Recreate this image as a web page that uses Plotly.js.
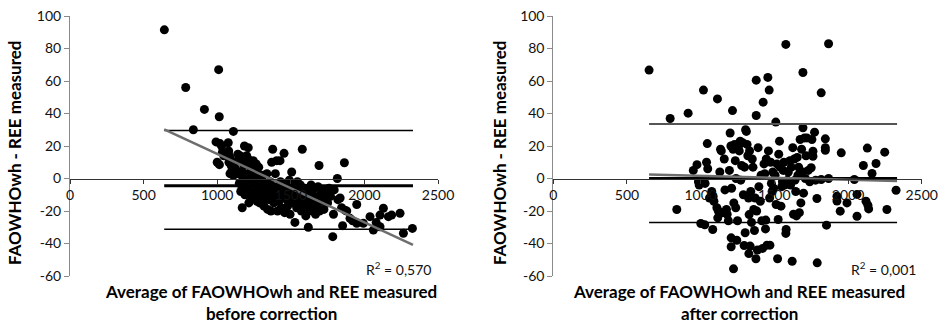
<!DOCTYPE html>
<html>
<head>
<meta charset="utf-8">
<script src="https://cdn.plot.ly/plotly-3.0.1.min.js"></script>
<style>html,body{margin:0;padding:0;background:#fff;}#chart{width:940px;height:323px;}</style>
</head>
<body>
<div id="chart"></div>
<script>
// ---- Data: before correction (left panel) ----
const beforeX = [641,786,838,913,992,1000,1010,1014,1015,
 1019,1030,1035,1045,1060,1075,1078,1080,1082,1087,1090,1095,1100,
 1110,1110,1115,1125,1135,1140,1148,1150,1155,1160,1165,1170,1172,1175,1178,1182,1185,1188,1190,1195,1200,
 1205,1210,1211,1215,1220,1225,1228,1232,1238,1240,1245,1250,1255,1260,1265,1270,1272,1278,1282,1288,1292,1298,
 1302,1308,1312,1318,1325,1330,1335,1338,1343,1350,1355,1360,1365,1370,1377,1380,1385,1390,1395,1398,
 1404,1410,1415,1420,1427,1430,1435,1440,1445,1454,1458,1462,1468,1472,1478,1485,1490,1495,1506,
 1510,1515,1520,1528,1535,1540,1545,1552,1560,1565,1572,1578,1582,1590,1595,
 1602,1608,1615,1619,1625,1630,1638,1645,1650,1655,1662,1668,1675,1680,1685,1692,1695,
 1702,1710,1718,1725,1730,1742,1750,1760,1770,1785,1790,1795,
 1816,1820,1835,1845,1852,1864,1868,1880,
 1902,1920,1948,1948,1993,2038,2061,2080,2106,2106,2129,2163,2185,2242,2265,2326];
const beforeY = [91.5,56,30,42.5,22.5,10,67,38,8.5,
 21.5,20,16,14,15,22,17,10,14,3,12,8,5,
 29,2,10,6,3,15,12,-3,14,-8,4,-18,1,-5,10,8,20,-10,3,-2,14,
 -6,12,19,-15,0,9,-12,5,-8,8,11,-3,2,-10,9,-14,4,-6,7,-15,0,-4,
 -13,-9,2,-17,-3,-11,-6,3,-19,-13,-8,-2,-20,10,18,-10,-15,-5,3,-12,
 11,-20,-8,-14,11,-2,-18,-6,-11,15.5,-21,-9,-3,-13,-17,-7,-1,-22,4,
 -10,-15,-5,-27,-12,-18,-2,-8,-14,-4,-20,18,-10,-16,-6,
 -23,-12,-18,-30,-8,-14,-4,-20,-10,-16,-6,-22,-12,-17,-5,8,-20,
 -10,-14,-7,-19,-12,-8,-15,-6,-11,-35.8,-22,-7,
 0,-13,-12,-18,-29,9.7,-19.5,-20,
 -24.5,-26,-16,-27.6,-27.6,-23.5,-31.7,-27,-22.5,-29.7,-18.3,-23.5,-22.5,-21.4,-33.7,-30.7];

// ---- Data: after correction (right panel) ----
const afterX = [650,793,838,915,950,975,985,990,
 1001,1019,1028,1005,1030,1040,1045,1048,1060,1075,1082,1085,1090,
 1114,1116,1110,1120,1130,1135,1140,1150,1160,1165,1175,1180,1188,1195,1200,
 1205,1207,1207,1210,1216,1220,1223,1225,1230,1235,1238,1240,1245,1250,1255,1262,1268,1272,1278,1285,1290,1295,1298,
 1302,1305,1310,1315,1320,1325,1327,1329,1332,1336,1340,1345,1350,1355,1360,1365,1370,1375,1377,1377,1380,1385,1390,1395,
 1405,1410,1415,1420,1424,1430,1435,1440,1442,1445,1450,1456,1460,1465,1468,1470,1475,1480,1485,1490,1495,
 1505,1510,1512,1518,1522,1526,1530,1535,1540,1545,1550,1555,1560,1565,1570,1578,1578,1580,1585,1590,1595,
 1605,1610,1615,1621,1625,1630,1635,1640,1645,1650,1655,1660,1665,1670,1675,1680,1685,1690,1694,1694,1698,
 1705,1710,1715,1721,1730,1740,1750,1755,1762,1762,1773,1780,1789,1791,
 1818,1818,1846,1846,1846,1854,1868,1868,
 1925,1925,1947,1954,1993,2043,2061,2061,2104,2122,2131,2135,2140,2163,2190,2249,2264,2326];
const afterY = [66.7,36.9,-19.1,40.2,5,8.5,-2,-4,
 -27.7,54.4,-28.5,-1,-3,10,21.5,6,-12,-8,-31.4,-11,-14,
 49,-24.2,-18,-20,4,18,17,-21,12,-7,-19,-22,-26,5,28,
 20,-36.5,-42,-6,41.8,18,-55.6,-15,21,11,-18,0,-38,-26,19,17,23,-1,8,22,-10,-41.2,7,
 -33.4,30,29,21,14,-12,-46.2,-22.2,17,-41.6,-8,-27,12,7,-19,-32,-12,-49.4,60.5,38.8,-20,-44,19,-5,
 -14,2,-26,-43,47,9,3,-31,-25.6,12,-41,62.2,17,54.4,-12,-41,10,-3,-8,4,-6,
 2,34.7,-16,9,-49.4,-25.2,15,23,7,-17,-5,-2,5,10,-4,82.5,-33.8,-31.4,-3,-1,4,
 11,-4,7,-50.9,19,-22,12,-1,-8,-23,13,2,7,-21,24,-15,18,4,65.2,31.2,-9,
 25,0,14,25,5,-2,6.6,24,16.8,13.7,28.5,-1,-12.3,-51.9,
 52.7,-0.6,24.4,18.9,17.4,-28.7,82.9,0,
 -10.9,-13.9,-20.1,15.8,-15,-0.6,-9.8,-23.2,8,-14,18.7,-16.4,-18.7,3.1,9.2,16.2,-19.1,-7.2];

// ---- Limits of agreement and regression lines ----
const limitXBefore = [640, 2330];
const upperBefore = 29.5, meanBefore = -4.5, lowerBefore = -31.2;
const trendXBefore = [640, 2330];
const trendYBefore = [30.3, -40.9];

const limitXAfter = [650, 2333];
const upperAfter = 33.5, meanAfter = 0, lowerAfter = -27;
const trendXAfter = [650, 2333];
const trendYAfter = [2.5, -1.5];

const xTicks = [0, 500, 1000, 1500, 2000, 2500];
const yTicks = [-60, -40, -20, 0, 20, 40, 60, 80, 100];
const yTitle = 'FAOWHOwh - REE measured';
const xTitleBefore = 'Average of FAOWHOwh and REE measured<br>before correction';
const xTitleAfter = 'Average of FAOWHOwh and REE measured<br>after correction';
const r2Before = 'R<sup>2</sup> = 0,570';
const r2After = 'R<sup>2</sup> = 0,001';

const FONT = 'Lato, "Noto Sans", sans-serif';

function flat(xs, v) { return xs.map(() => v); }

const traces = [
  {x: beforeX, y: beforeY, xaxis: 'x', yaxis: 'y', mode: 'markers', type: 'scatter',
   marker: {color: '#000', size: 9}},
  {x: limitXBefore, y: flat(limitXBefore, upperBefore), xaxis: 'x', yaxis: 'y', mode: 'lines', line: {color: '#000', width: 1.5}},
  {x: limitXBefore, y: flat(limitXBefore, lowerBefore), xaxis: 'x', yaxis: 'y', mode: 'lines', line: {color: '#000', width: 1.5}},
  {x: limitXBefore, y: flat(limitXBefore, meanBefore), xaxis: 'x', yaxis: 'y', mode: 'lines', line: {color: '#000', width: 3}},
  {x: trendXBefore, y: trendYBefore, xaxis: 'x', yaxis: 'y', mode: 'lines', line: {color: '#6e6e6e', width: 2.5}},

  {x: afterX, y: afterY, xaxis: 'x2', yaxis: 'y2', mode: 'markers', type: 'scatter',
   marker: {color: '#000', size: 9}},
  {x: limitXAfter, y: flat(limitXAfter, upperAfter), xaxis: 'x2', yaxis: 'y2', mode: 'lines', line: {color: '#555', width: 2}},
  {x: limitXAfter, y: flat(limitXAfter, lowerAfter), xaxis: 'x2', yaxis: 'y2', mode: 'lines', line: {color: '#000', width: 1.5}},
  {x: limitXAfter, y: flat(limitXAfter, meanAfter), xaxis: 'x2', yaxis: 'y2', mode: 'lines', line: {color: '#000', width: 3}},
  {x: trendXAfter, y: trendYAfter, xaxis: 'x2', yaxis: 'y2', mode: 'lines', line: {color: '#6e6e6e', width: 2.5}}
];

const W = 940, H = 323;
const yZeroPaper = 1 - 178.5 / H;

function xAxis(domain) {
  return {domain: domain, range: [0, 2500], anchor: 'free', position: yZeroPaper,
    showgrid: false, zeroline: false, showline: true, linecolor: '#333', linewidth: 1,
    ticks: 'outside', ticklen: 4, tickcolor: '#333', tickvals: xTicks, ticktext: xTicks.map(String),
    tickfont: {family: FONT, size: 14, color: '#111'}, fixedrange: true};
}
function yAxis(anchor) {
  return {domain: [1 - 276 / H, 1 - 16 / H], range: [-60, 100], anchor: anchor,
    showgrid: false, zeroline: false, showline: true, linecolor: '#8a8a8a', linewidth: 1,
    ticks: 'outside', ticklen: 5, tickcolor: '#8a8a8a', tickvals: yTicks, ticktext: yTicks.map(String),
    tickfont: {family: FONT, size: 14, color: '#111'}, fixedrange: true};
}

const titleFont = {family: FONT, size: 17, color: '#000', weight: 'bold'};
const layout = {
  width: W, height: H, margin: {l: 0, r: 0, t: 0, b: 0},
  paper_bgcolor: '#fff', plot_bgcolor: '#fff', showlegend: false,
  xaxis: xAxis([70 / W, 438 / W]),
  yaxis: yAxis('x'),
  xaxis2: xAxis([553.3 / W, 921.7 / W]),
  yaxis2: yAxis('x2'),
  annotations: [
    {text: '<b>' + yTitle + '</b>', xref: 'paper', yref: 'paper', x: 15 / W, y: 1 - 153 / H, textangle: -90,
     showarrow: false, font: titleFont, xanchor: 'center', yanchor: 'middle'},
    {text: '<b>' + yTitle + '</b>', xref: 'paper', yref: 'paper', x: 500 / W, y: 1 - 153 / H, textangle: -90,
     showarrow: false, font: titleFont, xanchor: 'center', yanchor: 'middle'},
    {text: '<b>' + xTitleBefore + '</b>', xref: 'paper', yref: 'paper', x: 271 / W, y: 1 - 302.5 / H,
     showarrow: false, font: titleFont, xanchor: 'center', yanchor: 'middle'},
    {text: '<b>' + xTitleAfter + '</b>', xref: 'paper', yref: 'paper', x: 738.5 / W, y: 1 - 302.5 / H,
     showarrow: false, font: titleFont, xanchor: 'center', yanchor: 'middle'},
    {text: r2Before, xref: 'paper', yref: 'paper', x: 398 / W, y: 1 - 268 / H,
     showarrow: false, font: {family: FONT, size: 14, color: '#111'}, xanchor: 'center', yanchor: 'middle'},
    {text: r2After, xref: 'paper', yref: 'paper', x: 883 / W, y: 1 - 268 / H,
     showarrow: false, font: {family: FONT, size: 14, color: '#111'}, xanchor: 'center', yanchor: 'middle'}
  ]
};

Plotly.newPlot('chart', traces, layout, {staticPlot: true, displayModeBar: false});
</script>
</body>
</html>
